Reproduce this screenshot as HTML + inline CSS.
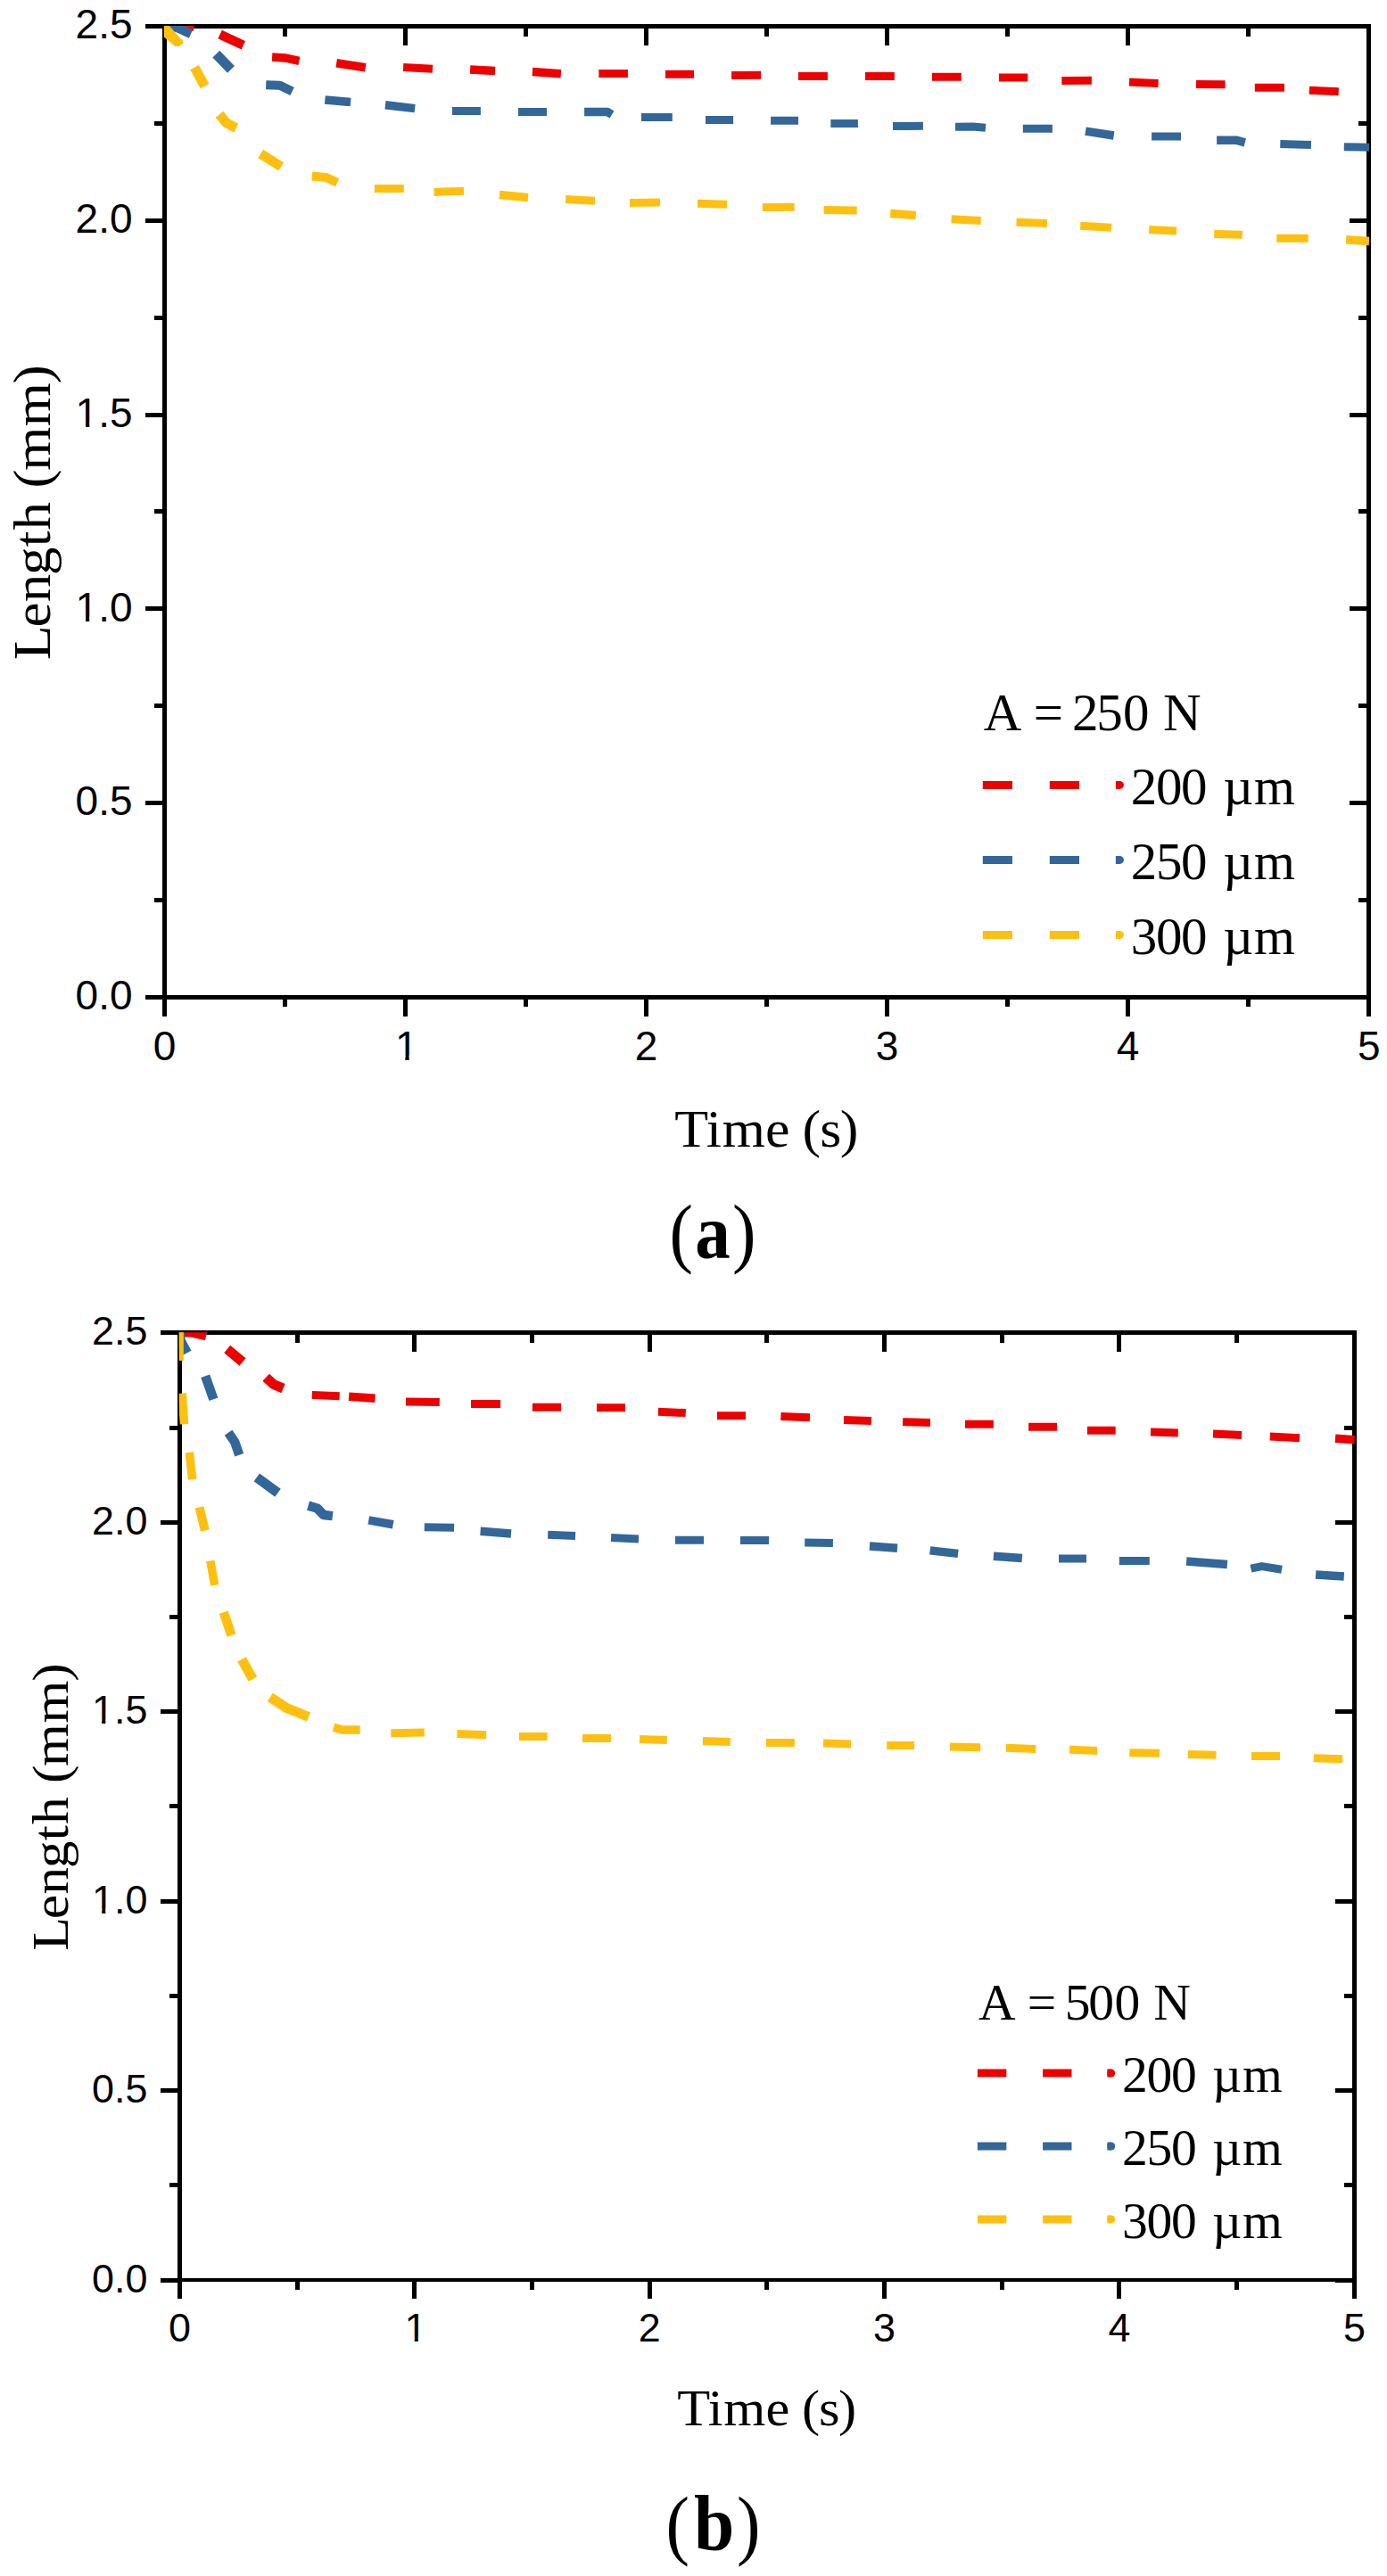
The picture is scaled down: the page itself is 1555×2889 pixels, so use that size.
<!DOCTYPE html>
<html lang="en">
<head>
<meta charset="utf-8">
<title>Length vs Time</title>
<style>
html,body{margin:0;padding:0;background:#fff;}
body{width:1555px;height:2889px;overflow:hidden;}
svg{display:block;}
</style>
</head>
<body>
<svg width="1555" height="2889" viewBox="0 0 1555 2889">
<rect x="0" y="0" width="1555" height="2889" fill="#fff"/>
<path d="M182,27 h1355 v5 h-1355Z M182,1116 h1355 v5 h-1355Z M182,27 h5 v1094 h-5Z M1532,27 h5 v1094 h-5Z" fill="#000" shape-rendering="crispEdges"/>
<path d="M184.5,1118.5 v21.5 M184.5,29.4 v22 M319.52,1118.5 v10.8 M319.52,29.4 v11.3 M454.54,1118.5 v21.5 M454.54,29.4 v22 M589.56,1118.5 v10.8 M589.56,29.4 v11.3 M724.58,1118.5 v21.5 M724.58,29.4 v22 M859.6,1118.5 v10.8 M859.6,29.4 v11.3 M994.62,1118.5 v21.5 M994.62,29.4 v22 M1129.64,1118.5 v10.8 M1129.64,29.4 v11.3 M1264.66,1118.5 v21.5 M1264.66,29.4 v22 M1399.68,1118.5 v10.8 M1399.68,29.4 v11.3 M1534.7,1118.5 v21.5 M1534.7,29.4 v22 M184.5,1118.5 h-22 M1534.7,1118.5 h-22 M184.5,1009.59 h-11.3 M1534.7,1009.59 h-11.3 M184.5,900.68 h-22 M1534.7,900.68 h-22 M184.5,791.77 h-11.3 M1534.7,791.77 h-11.3 M184.5,682.86 h-22 M1534.7,682.86 h-22 M184.5,573.95 h-11.3 M1534.7,573.95 h-11.3 M184.5,465.04 h-22 M1534.7,465.04 h-22 M184.5,356.13 h-11.3 M1534.7,356.13 h-11.3 M184.5,247.22 h-22 M1534.7,247.22 h-22 M184.5,138.31 h-11.3 M1534.7,138.31 h-11.3 M184.5,29.4 h-22 M1534.7,29.4 h-22" fill="none" stroke="#000" stroke-width="5" shape-rendering="crispEdges"/>
<clipPath id="clipa"><rect x="183.8" y="28.95" width="1351.4" height="1090.3"/></clipPath>
<g clip-path="url(#clipa)">
<path d="M184.5,29.6 L217,30.5 M452.1,75.6 L485,77.3 M671.3,82.5 L703.9,82.5 M746,83.3 L778,83.3 M820.1,84.4 L853.2,84.2 M895,85.4 L927.9,85.4 M970,85.4 L1002.8,85.4 M1044.9,86.2 L1077.8,86.2 M1119.9,87.1 L1152.2,87.1 M1190.3,90.4 L1223.9,90.3 M1266,92 L1298.6,93.4 M1341,94.6 L1373.6,94.8 M1406.8,98.3 L1439.9,98.2 M1467.8,101.3 L1500.8,102.7" fill="none" stroke="#EC0000" stroke-width="9" stroke-linejoin="round"/><path d="M305.1,64 L319.6,64.9 L335.4,68.3 M377.2,70.7 L409.8,75.8 M527.1,77.9 L555.1,79.6 M596.9,80.5 L628.9,82.8" fill="none" stroke="#EC0000" stroke-width="9.5" stroke-linejoin="round"/><path d="M246.6,38.6 L272.8,50.8" fill="none" stroke="#EC0000" stroke-width="10.5" stroke-linejoin="round"/>
<path d="M506.9,124.5 L538.9,124.5 M581,125.4 L613,125.4 M719,131.6 L753.8,131.4 M791,134.6 L822.1,134.6 M864.1,135.3 L895,135.3 M931.3,138.6 L961.9,138.4 M1001,141.5 L1034.9,141.3 M1071,142.3 L1090,142 L1105,143.3 M1146.8,144.2 L1179.9,144.2 M1291.1,153.1 L1324,153.1 M1435.3,161.5 L1469.9,162.4 M1506.8,164.7 L1535,165.2" fill="none" stroke="#336699" stroke-width="9" stroke-linejoin="round"/><path d="M364.3,111.9 L393.1,114.5 M432,117.7 L465.1,121.6 M655.1,125.4 L680.8,125.4 L686,128.5 M1217,147.1 L1248.7,152 M1364.1,157.2 L1385.7,157.2 L1395.8,159.8" fill="none" stroke="#336699" stroke-width="9.5" stroke-linejoin="round"/><path d="M298.2,95.2 L313.8,95.7 L327.6,102.4" fill="none" stroke="#336699" stroke-width="10" stroke-linejoin="round"/><path d="M186,27 L200,31.5 L214,38" fill="none" stroke="#336699" stroke-width="10.5" stroke-linejoin="round"/><path d="M242.3,60.6 L259,77.9" fill="none" stroke="#336699" stroke-width="11" stroke-linejoin="round"/>
<path d="M419.9,211.4 L452.8,211.4 M486.5,215.5 L520,214.2 M634.1,223.4 L667,225.2 M706,227.5 L740,226.9 M782,228.3 L815,229.2 M854.9,232.5 L890.7,232.2 M923.6,235.6 L960.7,236 M1066.6,245.7 L1099.7,247.4 M1139.5,249.2 L1173.9,250.6 M1211.2,253.2 L1246.1,255.2 M1288.2,257.5 L1319.1,259 M1361.2,262.4 L1392.9,263.3 M1431.3,267.3 L1466.7,267.3" fill="none" stroke="#FEC010" stroke-width="9" stroke-linejoin="round"/><path d="M560,218.5 L592,221.4 M998.2,239.4 L1026.8,241.4 M1509.1,268.8 L1535,270.5" fill="none" stroke="#FEC010" stroke-width="9.5" stroke-linejoin="round"/><path d="M349.8,197.5 L365.7,199 L378.1,204.8" fill="none" stroke="#FEC010" stroke-width="10" stroke-linejoin="round"/><path d="M218,75.6 L229.6,96.6 M246,128.3 L253.8,137.9 L264.8,143.6 M292.2,172.5 L315.2,186.9" fill="none" stroke="#FEC010" stroke-width="11" stroke-linejoin="round"/><path d="M183,28 L189,28 L203.3,44.2 L205,44.6 L205,48.7 L200.9,52 L196.3,52 L183,40.8Z" fill="#FEC010"/>
</g>
<g font-family="Liberation Sans, sans-serif" font-size="46" fill="#000">
<text x="184.5" y="1188.7" text-anchor="middle">0</text>
<text x="455.74" y="1188.7" text-anchor="middle">1</text>
<text x="724.58" y="1188.7" text-anchor="middle">2</text>
<text x="994.62" y="1188.7" text-anchor="middle">3</text>
<text x="1264.66" y="1188.7" text-anchor="middle">4</text>
<text x="1534.7" y="1188.7" text-anchor="middle">5</text>
<text x="148.5" y="1132.3" text-anchor="end">0.0</text>
<text x="148.5" y="914.48" text-anchor="end">0.5</text>
<text x="148.5" y="696.66" text-anchor="end">1.0</text>
<text x="148.5" y="478.84" text-anchor="end">1.5</text>
<text x="148.5" y="261.02" text-anchor="end">2.0</text>
<text x="148.5" y="43.2" text-anchor="end">2.5</text>
</g>
<rect x="444.33" y="1183.87" width="10.07" height="5.43" fill="#fff"/>
<rect x="458.64" y="1183.87" width="10.53" height="5.43" fill="#fff"/>
<rect x="85.94" y="691.83" width="10.07" height="5.43" fill="#fff"/>
<rect x="100.25" y="691.83" width="10.53" height="5.43" fill="#fff"/>
<rect x="85.94" y="474.01" width="10.07" height="5.43" fill="#fff"/>
<rect x="100.25" y="474.01" width="10.53" height="5.43" fill="#fff"/>
<g font-family="Liberation Serif, serif" font-size="59" fill="#000">
<text transform="scale(1.05,1)" x="720.36 754.08 771.24 817.24 846.74 856.75 875.38 896.8" y="1286" font-size="59">Time (s)</text>
<text transform="translate(55.9,0) rotate(-90) scale(1.07,1)" x="-691.53 -657.4 -631.15 -602.88 -573.15 -555.59 -526.09 -511.6 -493.28 -446.92 -402.07" y="0" font-size="59">Length (mm)</text>
<text x="1102.7 1132.2 1158.86 1188.36 1201.95 1229.15 1258.95 1288.45 1303.9" y="819.2" font-size="59">A = 250 N</text>
<text x="1267.8 1295.9 1324.1 1353.6 1371.36 1406.1" y="902" font-size="59">200 µm</text>
<text x="1267.8 1295.9 1324.1 1353.6 1371.36 1406.1" y="986" font-size="59">250 µm</text>
<text x="1267.8 1295.9 1324.1 1353.6 1371.36 1406.1" y="1070" font-size="59">300 µm</text>
</g>
<path d="M1101.8,880.4 h33.2 M1176.8,880.4 h33.2 M1250.9,880.4 h4.5" stroke="#EC0000" stroke-width="9" fill="none"/>
<circle cx="1255.4" cy="880.4" r="4.5" fill="#EC0000"/>
<path d="M1101.8,964.4 h33.2 M1176.8,964.4 h33.2 M1250.9,964.4 h4.5" stroke="#336699" stroke-width="9" fill="none"/>
<circle cx="1255.4" cy="964.4" r="4.5" fill="#336699"/>
<path d="M1101.8,1048.4 h33.2 M1176.8,1048.4 h33.2 M1250.9,1048.4 h4.5" stroke="#FEC010" stroke-width="9" fill="none"/>
<circle cx="1255.4" cy="1048.4" r="4.5" fill="#FEC010"/>
<path d="M199,1492 h1322 v5 h-1322Z M199,2555 h1322 v4 h-1322Z M199,1492 h5 v1067 h-5Z M1516,1492 h5 v1067 h-5Z" fill="#000" shape-rendering="crispEdges"/>
<path d="M201.4,2557.1 v20.97 M201.4,1494.79 v21.47 M333.1,2557.1 v10.53 M333.1,1494.79 v11.03 M464.8,2557.1 v20.97 M464.8,1494.79 v21.47 M596.5,2557.1 v10.53 M596.5,1494.79 v11.03 M728.19,2557.1 v20.97 M728.19,1494.79 v21.47 M859.89,2557.1 v10.53 M859.89,1494.79 v11.03 M991.59,2557.1 v20.97 M991.59,1494.79 v21.47 M1123.29,2557.1 v10.53 M1123.29,1494.79 v11.03 M1254.99,2557.1 v20.97 M1254.99,1494.79 v21.47 M1386.69,2557.1 v10.53 M1386.69,1494.79 v11.03 M1518.39,2557.1 v20.97 M1518.39,1494.79 v21.47 M201.4,2557.1 h-21.47 M1518.39,2557.1 h-21.47 M201.4,2450.87 h-11.03 M1518.39,2450.87 h-11.03 M201.4,2344.64 h-21.47 M1518.39,2344.64 h-21.47 M201.4,2238.41 h-11.03 M1518.39,2238.41 h-11.03 M201.4,2132.18 h-21.47 M1518.39,2132.18 h-21.47 M201.4,2025.95 h-11.03 M1518.39,2025.95 h-11.03 M201.4,1919.72 h-21.47 M1518.39,1919.72 h-21.47 M201.4,1813.48 h-11.03 M1518.39,1813.48 h-11.03 M201.4,1707.25 h-21.47 M1518.39,1707.25 h-21.47 M201.4,1601.02 h-11.03 M1518.39,1601.02 h-11.03 M201.4,1494.79 h-21.47 M1518.39,1494.79 h-21.47" fill="none" stroke="#000" stroke-width="5" shape-rendering="crispEdges"/>
<clipPath id="clipb"><rect x="200.7" y="1494.34" width="1318.19" height="1063.51"/></clipPath>
<g clip-path="url(#clipb)">
<path d="M349.8,1564.6 L380.7,1565.7 M455,1571.9 L492.8,1572.5 M528,1574.5 L561.1,1574.5 M596.9,1578.2 L629.2,1578.2 M669,1578.8 L701,1578.8 M737.9,1583.2 L768.8,1584.6 M804,1587.8 L836,1587.8 M875.4,1588.4 L908,1589.8 M946,1592.4 L976.9,1593.5 M1012.1,1594.7 L1042.9,1595.6 M1081.9,1597.3 L1113.9,1597.3 M1153.1,1600.2 L1185.1,1600.2 M1219,1604.3 L1250.7,1604.3 M1290,1606 L1320.8,1606.9 M1360,1608.1 L1392.1,1609.5 M1423.8,1611 L1457,1612.7" fill="none" stroke="#EC0000" stroke-width="9" stroke-linejoin="round"/><path d="M201.8,1494.6 L216,1495 L231,1498.5 M391.1,1566.3 L420.5,1568.3 M1497,1613.3 L1518.7,1614.7" fill="none" stroke="#EC0000" stroke-width="9.5" stroke-linejoin="round"/><path d="M254.7,1513 L272,1527.4 M298.2,1544.7 L306.6,1552.5 L317.5,1557.1" fill="none" stroke="#EC0000" stroke-width="11" stroke-linejoin="round"/>
<path d="M475.8,1712.8 L509.1,1713.3 M614.2,1721.3 L645.1,1722.4 M685.1,1724.5 L716,1725.9 M757,1727.3 L789,1727.3 M830,1727.4 L862.1,1727.4 M902.2,1730 L933.9,1730.5 M1187,1747.9 L1218,1747.9 M1254.8,1750.5 L1288.8,1750.5 M1402.4,1759.2 L1414.6,1756.6 L1437,1760.3" fill="none" stroke="#336699" stroke-width="9" stroke-linejoin="round"/><path d="M413.3,1704.9 L440.7,1709.8 M538.6,1717.3 L573,1719.9 M974.9,1734 L1006,1736.3 M1042.6,1738.9 L1074.1,1742.4 M1113.9,1745.2 L1145.9,1747.5 M1330.1,1751.1 L1375.9,1754.6 M1475.1,1766.1 L1506.8,1768.1" fill="none" stroke="#336699" stroke-width="9.5" stroke-linejoin="round"/><path d="M201.8,1493 L202.3,1503 L209.8,1517.3 M230.2,1543.2 L239.4,1569.2 M256.1,1606.7 L263.3,1617.4 L268.2,1631.8 M345.5,1688.6 L355.6,1691.5 L362.8,1699 L372.9,1700.1" fill="none" stroke="#336699" stroke-width="10.5" stroke-linejoin="round"/><path d="M287.8,1656.9 L311.5,1674.2" fill="none" stroke="#336699" stroke-width="11" stroke-linejoin="round"/>
<path d="M201.3,1493 L201.3,1525.9 M438.3,1943.7 L475.8,1943.1 M512.4,1944.6 L545.2,1945.8 M582,1947.5 L613.7,1947.5 M653,1949.5 L685,1949.5 M717,1950.4 L747.8,1951.5 M787.9,1952.4 L818.8,1953.5 M858.9,1954.4 L890.9,1954.4 M923,1955.1 L954.1,1955.9 M994.2,1957.4 L1025.1,1957.4 M1064.9,1959.1 L1099.2,1959.7 M1128,1960.3 L1161.2,1961.4 M1199,1962.3 L1230.1,1963.4 M1266.3,1965.8 L1300.1,1966.3 M1331.8,1967.5 L1363.5,1968.3 M1403,1969.5 L1435,1969.5 M1472.8,1971.8 L1505.1,1972.7" fill="none" stroke="#FEC010" stroke-width="9" stroke-linejoin="round"/><path d="M204.2,1562.6 L206.5,1597.2 M212.3,1628.9 L215.7,1659.2 M235.8,1750.5 L240.7,1777.9 M374,1937.1 L383.5,1939.9 L403.7,1939.9" fill="none" stroke="#FEC010" stroke-width="9.5" stroke-linejoin="round"/><path d="M223.5,1690.3 L229.8,1716.5" fill="none" stroke="#FEC010" stroke-width="10" stroke-linejoin="round"/><path d="M250.8,1808.1 L259.5,1834.1" fill="none" stroke="#FEC010" stroke-width="10.5" stroke-linejoin="round"/><path d="M271,1860.9 L283.4,1883.1 M302.8,1903.3 L321.5,1915.7 L346,1925.5" fill="none" stroke="#FEC010" stroke-width="11" stroke-linejoin="round"/>
</g>
<g font-family="Liberation Sans, sans-serif" font-size="44.87" fill="#000">
<text x="201.4" y="2626.17" text-anchor="middle">0</text>
<text x="466" y="2626.17" text-anchor="middle">1</text>
<text x="728.19" y="2626.17" text-anchor="middle">2</text>
<text x="991.59" y="2626.17" text-anchor="middle">3</text>
<text x="1254.99" y="2626.17" text-anchor="middle">4</text>
<text x="1518.39" y="2626.17" text-anchor="middle">5</text>
<text x="165.39" y="2570.56" text-anchor="end">0.0</text>
<text x="165.39" y="2358.1" text-anchor="end">0.5</text>
<text x="165.39" y="2145.64" text-anchor="end">1.0</text>
<text x="165.39" y="1933.18" text-anchor="end">1.5</text>
<text x="165.39" y="1720.71" text-anchor="end">2.0</text>
<text x="165.39" y="1508.25" text-anchor="end">2.5</text>
</g>
<rect x="454.87" y="2621.46" width="9.83" height="5.31" fill="#fff"/>
<rect x="468.82" y="2621.46" width="10.27" height="5.31" fill="#fff"/>
<rect x="104.36" y="2140.93" width="9.83" height="5.31" fill="#fff"/>
<rect x="118.32" y="2140.93" width="10.27" height="5.31" fill="#fff"/>
<rect x="104.36" y="1928.46" width="9.83" height="5.31" fill="#fff"/>
<rect x="118.32" y="1928.46" width="10.27" height="5.31" fill="#fff"/>
<g font-family="Liberation Serif, serif" font-size="57.55" fill="#000">
<text transform="scale(1.05,1)" x="723.05 755.95 772.68 817.55 846.32 856.09 874.27 895.15" y="2720.48" font-size="57.55">Time (s)</text>
<text transform="translate(75.96,0) rotate(-90) scale(1.07,1)" x="-2044.72 -2011.43 -1985.83 -1958.25 -1929.26 -1912.12 -1883.35 -1869.21 -1851.34 -1806.13 -1762.38" y="0" font-size="57.55">Length (mm)</text>
<text x="1097.01 1125.79 1151.79 1180.57 1193.82 1220.35 1249.42 1278.19 1293.26" y="2265.16" font-size="57.55">A = 500 N</text>
<text x="1258.05 1285.46 1312.97 1341.74 1359.06 1392.95" y="2345.93" font-size="57.55">200 µm</text>
<text x="1258.05 1285.46 1312.97 1341.74 1359.06 1392.95" y="2427.86" font-size="57.55">250 µm</text>
<text x="1258.05 1285.46 1312.97 1341.74 1359.06 1392.95" y="2509.79" font-size="57.55">300 µm</text>
</g>
<path d="M1095.93,2325.06 h32.38 M1169.09,2325.06 h32.38 M1241.37,2325.06 h4.39" stroke="#EC0000" stroke-width="9" fill="none"/>
<circle cx="1245.76" cy="2325.06" r="4.5" fill="#EC0000"/>
<path d="M1095.93,2406.99 h32.38 M1169.09,2406.99 h32.38 M1241.37,2406.99 h4.39" stroke="#336699" stroke-width="9" fill="none"/>
<circle cx="1245.76" cy="2406.99" r="4.5" fill="#336699"/>
<path d="M1095.93,2488.92 h32.38 M1169.09,2488.92 h32.38 M1241.37,2488.92 h4.39" stroke="#FEC010" stroke-width="9" fill="none"/>
<circle cx="1245.76" cy="2488.92" r="4.5" fill="#FEC010"/>
<text transform="scale(0.92,1)" x="815.76 846.96 892.39" y="1411.4 1411 1411.4" font-family="Liberation Serif, serif" fill="#000"><tspan font-size="86.5">(</tspan><tspan font-size="86" font-weight="bold">a</tspan><tspan font-size="86.5">)</tspan></text>
<text transform="scale(0.92,1)" x="811.41 845.65 897.83" y="2860.5 2860.1 2860.5" font-family="Liberation Serif, serif" fill="#000"><tspan font-size="86.5">(</tspan><tspan font-size="88.5" font-weight="bold">b</tspan><tspan font-size="86.5">)</tspan></text>
</svg>
</body>
</html>
